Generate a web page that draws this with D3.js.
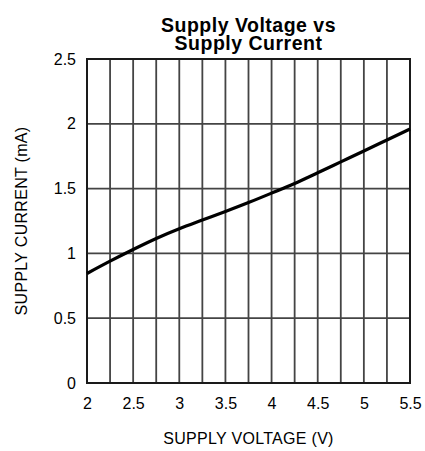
<!DOCTYPE html>
<html>
<head>
<meta charset="utf-8">
<script src="https://cdn.jsdelivr.net/npm/d3@7"></script>
<style>
  html, body { margin: 0; padding: 0; background: #fff; }
  svg { display: block; }
</style>
</head>
<body>
<svg id="chart" width="425" height="451"></svg>
<script>
// ---- data ----
const titleLines = ["Supply Voltage vs", "Supply Current"];
const xLabel = "SUPPLY VOLTAGE (V)";
const yLabel = "SUPPLY CURRENT (mA)";
const voltage = [2, 2.25, 2.5, 2.75, 3, 3.25, 3.5, 3.75, 4, 4.25, 4.5, 4.75, 5, 5.25, 5.5];
const current = [0.845, 0.94, 1.03, 1.115, 1.19, 1.257, 1.323, 1.392, 1.465, 1.54, 1.622, 1.706, 1.79, 1.875, 1.96];
const xTicks = [2, 2.5, 3, 3.5, 4, 4.5, 5, 5.5];
const xGrid = [2.25, 2.5, 2.75, 3, 3.25, 3.5, 3.75, 4, 4.25, 4.5, 4.75, 5, 5.25];
const yTicks = [0, 0.5, 1, 1.5, 2, 2.5];
const yGrid = [0.5, 1, 1.5, 2];

// ---- layout ----
const svg = d3.select("#chart");
const pL = 87, pR = 410, pT = 59, pB = 383;
const x = d3.scaleLinear().domain([2, 5.5]).range([pL, pR]);
const y = d3.scaleLinear().domain([0, 2.5]).range([pB, pT]);
const tickFont = "'Liberation Sans', Arial, sans-serif";

// grid
const g = svg.append("g");
g.selectAll("line.vg").data(xGrid).enter().append("line")
  .attr("x1", d => x(d)).attr("x2", d => x(d))
  .attr("y1", pT).attr("y2", pB)
  .attr("stroke", "#444").attr("stroke-width", 1.8);
g.selectAll("line.hg").data(yGrid).enter().append("line")
  .attr("x1", pL).attr("x2", pR)
  .attr("y1", d => y(d)).attr("y2", d => y(d))
  .attr("stroke", "#444").attr("stroke-width", 1.8);

// frame
svg.append("rect")
  .attr("x", pL).attr("y", pT)
  .attr("width", pR - pL).attr("height", pB - pT)
  .attr("fill", "none").attr("stroke", "#1a1a1a").attr("stroke-width", 2);

// axes tick labels via d3 axes
const xAxis = d3.axisBottom(x).tickValues(xTicks).tickSize(0).tickPadding(15)
  .tickFormat(d3.format("~g"));
const xa = svg.append("g").attr("transform", `translate(0,${pB})`).call(xAxis);
xa.select(".domain").remove();
xa.selectAll("text").attr("font-family", tickFont).attr("font-size", 16).attr("fill", "#000");

const yAxis = d3.axisLeft(y).tickValues(yTicks).tickSize(0).tickPadding(11)
  .tickFormat(d3.format("~g"));
const ya = svg.append("g").attr("transform", `translate(${pL},0)`).call(yAxis);
ya.select(".domain").remove();
ya.selectAll("text").attr("font-family", tickFont).attr("font-size", 16).attr("fill", "#000");

// curve
const line = d3.line().x((d, i) => x(voltage[i])).y(d => y(d)).curve(d3.curveMonotoneX);
svg.append("path")
  .datum(current)
  .attr("d", line)
  .attr("fill", "none").attr("stroke", "#000").attr("stroke-width", 3.2)
  .attr("stroke-linejoin", "round");

// title (one text element, two lines)
const cx = (pL + pR) / 2;
const title = svg.append("text")
  .attr("text-anchor", "middle")
  .attr("font-family", "'Liberation Sans', Arial, sans-serif")
  .attr("font-weight", "bold").attr("font-size", 19.5)
  .attr("letter-spacing", 0.5);
titleLines.forEach((t, i) => {
  title.append("tspan")
    .attr("x", cx).attr("y", 31.5 + i * 18.5)
    .text(t);
});

// axis titles
svg.append("text")
  .attr("x", cx).attr("y", 443.5)
  .attr("text-anchor", "middle")
  .attr("font-family", tickFont).attr("font-size", 16)
  .attr("letter-spacing", 0.3)
  .text(xLabel);
svg.append("text")
  .attr("transform", `translate(27,${(pT + pB) / 2}) rotate(-90)`)
  .attr("text-anchor", "middle")
  .attr("font-family", tickFont).attr("font-size", 16)
  .attr("letter-spacing", 0.3)
  .text(yLabel);
</script>
</body>
</html>
